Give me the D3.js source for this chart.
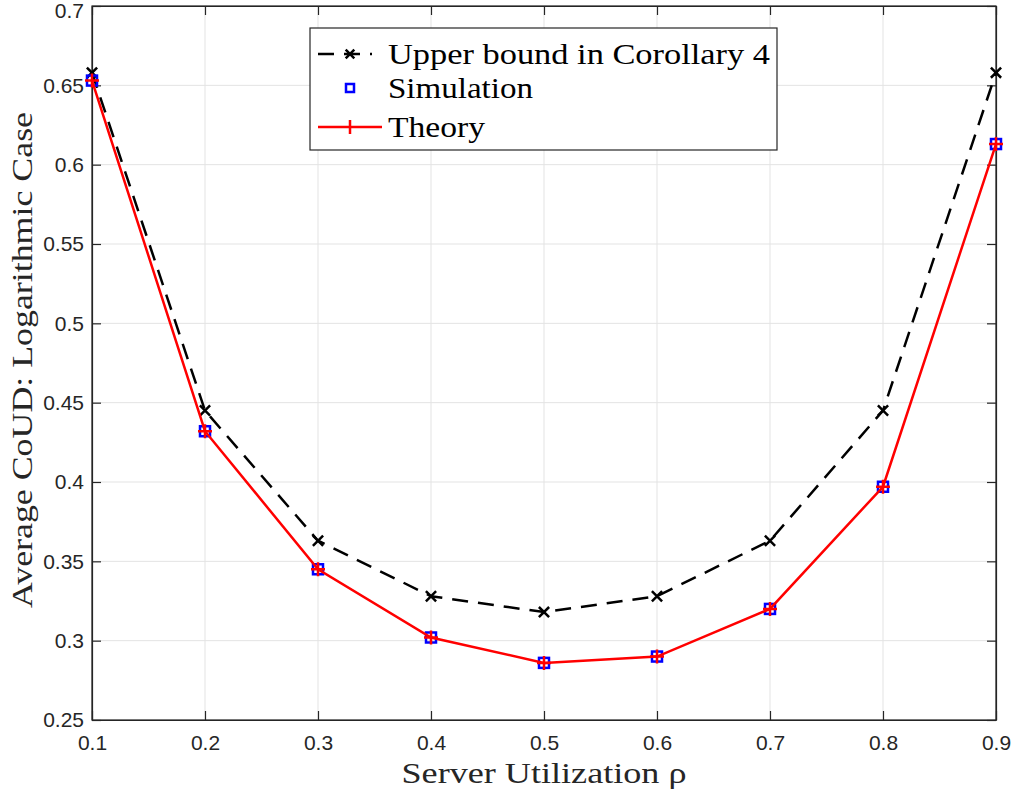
<!DOCTYPE html>
<meta charset="utf-8">
<style>
  body { margin: 0; background: #fff; }
  .lbl { font-family: 'Liberation Serif', 'DejaVu Serif', serif; font-size: 30px; fill: #262626; }
  .leg { font-family: 'Liberation Serif', 'DejaVu Serif', serif; font-size: 30px; fill: #000; }
</style>
<script src="https://d3js.org/d3.v7.min.js"></script>
<div id="chart"></div>
<script>
// utilization values on the x axis
var rho = [0.1, 0.2, 0.3, 0.4, 0.5, 0.6, 0.7, 0.8, 0.9];
// upper bound (corollary 4)
var upperBound = [0.658, 0.445, 0.363, 0.328, 0.318, 0.328, 0.363, 0.445, 0.658];
// simulation results
var simulation = [0.653, 0.432, 0.345, 0.302, 0.286, 0.290, 0.320, 0.397, 0.613];
// theory curve
var theory = [0.653, 0.432, 0.345, 0.302, 0.286, 0.290, 0.320, 0.397, 0.613];
var xTicks = [0.1, 0.2, 0.3, 0.4, 0.5, 0.6, 0.7, 0.8, 0.9];
var yTicks = [0.25, 0.3, 0.35, 0.4, 0.45, 0.5, 0.55, 0.6, 0.65, 0.7];

var W = 1013, H = 794;
var margin = {top: 6, right: 17, bottom: 74, left: 92};
var width = W - margin.left - margin.right,
    height = H - margin.top - margin.bottom;

var svg = d3.select("#chart").append("svg")
    .attr("width", W).attr("height", H)
  .append("g")
    .attr("transform", "translate(" + margin.left + "," + margin.top + ")");

var x = d3.scaleLinear().domain([0.1, 0.9]).range([0, width]);
var y = d3.scaleLinear().domain([0.25, 0.7]).range([height, 0]);

// grid
svg.append("g").selectAll("line.gx").data(xTicks).enter().append("line")
  .attr("x1", d => x(d)).attr("x2", d => x(d)).attr("y1", 0).attr("y2", height)
  .style("stroke", "#e3e3e3").style("stroke-width", 1);
svg.append("g").selectAll("line.gy").data(yTicks).enter().append("line")
  .attr("y1", d => y(d)).attr("y2", d => y(d)).attr("x1", 0).attr("x2", width)
  .style("stroke", "#e3e3e3").style("stroke-width", 1);

// axes, ticks pointing inward
var tl = 9;
var fmt = d3.format("");
var xa = svg.append("g").attr("transform", "translate(0," + height + ")")
  .call(d3.axisBottom(x).tickValues(xTicks).tickSizeInner(-tl).tickSizeOuter(0).tickPadding(15).tickFormat(fmt));
var ya = svg.append("g")
  .call(d3.axisLeft(y).tickValues(yTicks).tickSizeInner(-tl).tickSizeOuter(0).tickPadding(8).tickFormat(fmt));
svg.append("g")
  .call(d3.axisTop(x).tickValues(xTicks).tickSizeInner(-tl).tickSizeOuter(0).tickFormat(""));
svg.append("g").attr("transform", "translate(" + width + ",0)")
  .call(d3.axisRight(y).tickValues(yTicks).tickSizeInner(-tl).tickSizeOuter(0).tickFormat(""));
[xa, ya].forEach(function(a) {
  a.selectAll("text")
    .style("font-size", "21px")
    .style("font-family", "'Liberation Sans', Arial, sans-serif")
    .style("fill", "#262626");
});
// top label sits a little lower so it is not clipped
ya.selectAll(".tick").filter(d => d === 0.7).select("text").attr("y", 5);
svg.selectAll(".domain, .tick line").style("stroke", "#262626").style("stroke-width", 1.2);
svg.append("rect").attr("width", width).attr("height", height)
  .style("fill", "none").style("stroke", "#262626").style("stroke-width", 1.2);

var line = d3.line().x(d => x(d[0])).y(d => y(d[1]));

// upper bound: dashed black with x markers
svg.append("path").datum(d3.zip(rho, upperBound)).attr("d", line)
  .style("fill", "none").style("stroke", "#000").style("stroke-width", 2.5)
  .style("stroke-dasharray", "16,10");
var cross = d3.symbol().type(d3.symbolX).size(70);
svg.selectAll(".ub").data(d3.zip(rho, upperBound)).enter().append("path")
  .attr("transform", d => "translate(" + x(d[0]) + "," + y(d[1]) + ")")
  .attr("d", cross).style("fill", "none").style("stroke", "#000").style("stroke-width", 2.5);

// simulation: blue squares
svg.selectAll(".sim").data(d3.zip(rho, simulation)).enter().append("rect")
  .attr("x", d => x(d[0]) - 5).attr("y", d => y(d[1]) - 5)
  .attr("width", 10).attr("height", 10)
  .style("fill", "none").style("stroke", "#0000ff").style("stroke-width", 2.5);

// theory: red line with + markers
svg.append("path").datum(d3.zip(rho, theory)).attr("d", line)
  .style("fill", "none").style("stroke", "#ff0000").style("stroke-width", 2.5);
svg.selectAll(".th").data(d3.zip(rho, theory)).enter().append("path")
  .attr("transform", d => "translate(" + x(d[0]) + "," + y(d[1]) + ")")
  .attr("d", "M-7,0H7M0,-7V7").style("fill", "none").style("stroke", "#ff0000").style("stroke-width", 2.5);

// axis labels
svg.append("text").attr("class", "lbl")
  .attr("x", 544 - margin.left).attr("y", height + 63).attr("text-anchor", "middle")
  .attr("textLength", 285).attr("lengthAdjust", "spacingAndGlyphs")
  .text("Server Utilization ρ");
svg.append("text").attr("class", "lbl")
  .attr("transform", "translate(" + (32 - margin.left) + "," + (360 - margin.top) + ") rotate(-90)")
  .attr("text-anchor", "middle")
  .attr("textLength", 496).attr("lengthAdjust", "spacingAndGlyphs")
  .text("Average CoUD: Logarithmic Case");

// legend
var lg = svg.append("g").attr("transform", "translate(" + (310 - margin.left) + "," + (28 - margin.top) + ")");
lg.append("rect").attr("width", 467).attr("height", 122)
  .style("fill", "#fff").style("stroke", "#262626").style("stroke-width", 1.2);
var rows = [
  {name: "Upper bound in Corollary 4", y: 26, w: 382},
  {name: "Simulation", y: 60, w: 145},
  {name: "Theory", y: 99, w: 97}
];
lg.append("line").attr("x1", 8).attr("x2", 62).attr("y1", rows[0].y).attr("y2", rows[0].y)
  .style("stroke", "#000").style("stroke-width", 2.5).style("stroke-dasharray", "16,10");
lg.append("path").attr("transform", "translate(40," + rows[0].y + ")").attr("d", d3.symbol().type(d3.symbolX).size(50))
  .style("fill", "none").style("stroke", "#000").style("stroke-width", 2.5);
lg.append("rect").attr("x", 36).attr("y", rows[1].y - 4).attr("width", 8).attr("height", 8)
  .style("fill", "none").style("stroke", "#0000ff").style("stroke-width", 2.5);
lg.append("line").attr("x1", 8).attr("x2", 72).attr("y1", rows[2].y).attr("y2", rows[2].y)
  .style("stroke", "#ff0000").style("stroke-width", 2.5);
lg.append("path").attr("transform", "translate(40," + rows[2].y + ")").attr("d", "M0,-7V7")
  .style("fill", "none").style("stroke", "#ff0000").style("stroke-width", 2.5);
lg.selectAll(".lt").data(rows).enter().append("text").attr("class", "leg")
  .attr("x", 78).attr("y", d => d.y + 10)
  .attr("textLength", d => d.w).attr("lengthAdjust", "spacingAndGlyphs")
  .text(d => d.name);
</script>
